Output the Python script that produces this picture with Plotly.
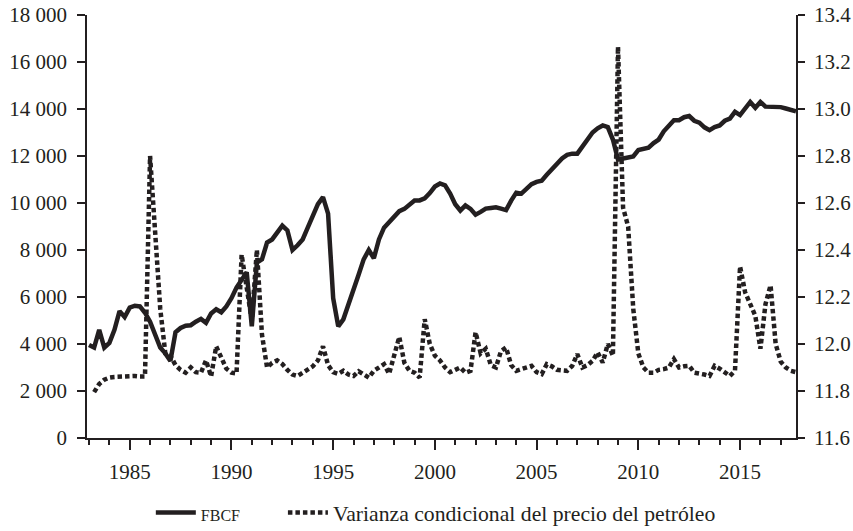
import plotly.graph_objects as go

# Quarterly data, 1983Q1 - 2017Q4
start_year = 1983
fbcf = [3960, 3850, 4600, 3850, 4050, 4600, 5400, 5150, 5550, 5630,
        5600, 5330, 4950, 4350, 3850, 3600, 3280, 4500, 4680, 4780,
        4800, 4950, 5070, 4900, 5300, 5480, 5350, 5600, 5950, 6400,
        6750, 7050, 4750, 7460, 7600, 8320, 8450, 8750, 9040, 8830,
        8000, 8200, 8450, 8950, 9500, 9950, 10250, 9550, 5950, 4750,
        5050, 5650, 6300, 6950, 7600, 8000, 7650, 8450, 8950, 9180,
        9400, 9650, 9750, 9950, 10110, 10110, 10200, 10420, 10700, 10830,
        10750, 10400, 9950, 9680, 9900, 9750, 9500, 9620, 9760, 9790,
        9820, 9760, 9700, 10100, 10440, 10400, 10600, 10800, 10900, 10950,
        11200, 11450, 11650, 11900, 12050, 12100, 12100, 12380, 12700, 13000,
        13180, 13300, 13230, 12700, 11850, 11900, 11950, 11980, 12250, 12310,
        12350, 12550, 12700, 13050, 13300, 13520, 13520, 13650, 13700, 13500,
        13420, 13220, 13100, 13230, 13300, 13500, 13590, 13880, 13740, 14050,
        14300, 14050, 14300, 14100, 14090, 14100, 14080, 14020, 13960, 13900]

# Conditional variance of oil price starts one quarter later (1983Q2)
varianza = [11.795, 11.83, 11.848, 11.857, 11.86, 11.862, 11.864, 11.864, 11.864, 11.862,
            11.862, 12.80, 12.45, 12.15, 11.96, 11.95, 11.91, 11.89, 11.878, 11.90,
            11.88, 11.878, 11.93, 11.862, 11.99, 11.94, 11.895, 11.878, 11.875, 12.38,
            12.25, 12.10, 12.40, 12.04, 11.90, 11.92, 11.93, 11.915, 11.89, 11.87,
            11.864, 11.877, 11.89, 11.905, 11.93, 11.99, 11.91, 11.88, 11.873, 11.886,
            11.87, 11.864, 11.884, 11.87, 11.857, 11.886, 11.90, 11.914, 11.873, 11.958,
            12.03, 11.92, 11.886, 11.878, 11.857, 12.106, 12.0, 11.95, 11.93, 11.90,
            11.88, 11.89, 11.90, 11.878, 11.886, 12.05, 11.96, 11.98, 11.91, 11.90,
            11.97, 11.985, 11.91, 11.886, 11.893, 11.90, 11.907, 11.88, 11.872, 11.914,
            11.905, 11.89, 11.886, 11.886, 11.907, 11.957, 11.90, 11.91, 11.928, 11.964,
            11.921, 12.0, 11.95, 13.265, 12.58, 12.50, 12.15, 11.96, 11.90, 11.878,
            11.878, 11.89, 11.893, 11.90, 11.936, 11.90, 11.905, 11.907, 11.878, 11.875,
            11.87, 11.864, 11.907, 11.895, 11.88, 11.864, 11.886, 12.33, 12.22, 12.17,
            12.12, 11.98, 12.17, 12.25, 12.0, 11.925, 11.90, 11.886, 11.88]

x_fbcf = [start_year + i / 4 for i in range(len(fbcf))]
x_var = [start_year + (i + 1) / 4 for i in range(len(varianza))]

ink = "#231f20"
font_family = "Liberation Serif, Times New Roman, serif"

fig = go.Figure()
fig.add_trace(go.Scatter(
    x=x_var, y=varianza, yaxis="y2", mode="lines",
    name="Varianza condicional del precio del petróleo",
    line=dict(color=ink, width=4.5, dash="4.5px,3px"),
))
fig.add_trace(go.Scatter(
    x=x_fbcf, y=fbcf, mode="lines",
    name='<span style="font-size:16px">FBCF</span>' + "\u00a0" * 7,
    line=dict(color=ink, width=4.5),
))

axis_common = dict(
    showline=True, linecolor=ink, linewidth=1.6,
    ticks="outside", tickcolor=ink, tickwidth=1.6,
    showgrid=False, zeroline=False, automargin=False,
    tickfont=dict(family=font_family, size=21, color=ink),
)

fig.update_layout(
    width=853, height=531,
    margin=dict(l=87, r=57, t=15, b=93, autoexpand=False),
    paper_bgcolor="white", plot_bgcolor="white",
    separators=". ",
    font=dict(family=font_family, size=21, color=ink),
    xaxis=dict(
        range=[1982.9, 2017.75], tick0=1985, dtick=5, ticklen=10,
        minor=dict(dtick=1, tick0=1985, ticks="outside", ticklen=5,
                   tickcolor=ink, tickwidth=1.6),
        ticklabelstandoff=4,
        **axis_common,
    ),
    yaxis=dict(
        range=[0, 18000], tick0=0, dtick=2000, tickformat=",d", ticklen=8,
        ticklabelstandoff=6,
        **axis_common,
    ),
    yaxis2=dict(
        range=[11.6, 13.4], tick0=11.6, dtick=0.2, tickformat=".1f", ticklen=7,
        overlaying="y", side="right", ticklabelstandoff=5,
        **axis_common,
    ),
    showlegend=True,
    legend=dict(
        orientation="h", x=0.492, xanchor="center", y=-0.177, yanchor="middle",
        font=dict(family=font_family, size=21.7, color=ink),
        traceorder="reversed", itemwidth=40,
    ),
)

fig.write_html(
    "out.html",
    config={"displayModeBar": False},
    post_script="document.body.style.margin='0';document.body.style.overflow='hidden';",
)
